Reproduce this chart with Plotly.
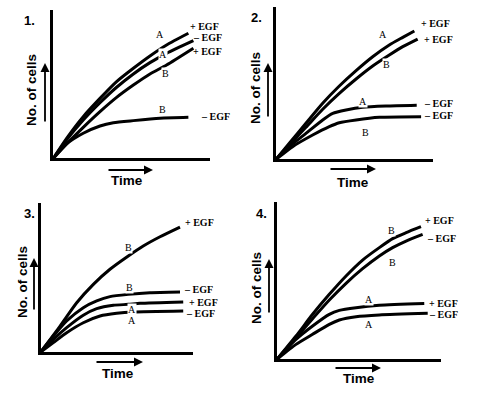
import plotly.graph_objects as go

# ---------------- data (time, no. of cells in arbitrary units 0-10) ----------------
# Panel 1
p1_Aplus_t = [0, 0.85, 1.91, 2.98, 4.04, 5.11, 6.17, 7.23, 8.62]
p1_Aplus_n = [0, 1.35, 2.81, 4.04, 5.17, 6.07, 6.90, 7.64, 8.43]
p1_Aminus_t = [0, 0.85, 1.91, 2.98, 4.04, 5.11, 6.17, 7.23, 8.94]
p1_Aminus_n = [0, 1.24, 2.58, 3.75, 4.79, 5.69, 6.45, 7.08, 7.93]
p1_Bplus_t = [0, 0.85, 1.91, 2.98, 4.04, 5.11, 6.17, 7.23, 8.94]
p1_Bplus_n = [0, 0.97, 2.09, 3.15, 4.11, 4.94, 5.69, 6.29, 7.42]
p1_Bminus_t = [0, 0.85, 1.91, 2.98, 3.83, 5.11, 6.81, 8.62]
p1_Bminus_n = [0, 0.97, 1.69, 2.18, 2.40, 2.54, 2.70, 2.76]

# Panel 2
p2_Aplus_t = [0, 0.85, 1.91, 2.98, 4.04, 5.11, 6.17, 7.23, 8.09, 8.83]
p2_Aplus_n = [0, 1.05, 2.36, 3.67, 4.80, 5.81, 6.72, 7.49, 7.99, 8.41]
p2_Bplus_t = [0, 0.85, 1.91, 2.98, 4.04, 5.11, 6.17, 7.23, 8.09, 9.04]
p2_Bplus_n = [0, 0.94, 2.10, 3.28, 4.32, 5.26, 6.11, 6.83, 7.38, 7.88]
p2_Aminus_t = [0, 0.85, 1.91, 2.98, 3.62, 4.47, 5.53, 7.02, 8.98]
p2_Aminus_n = [0, 0.83, 1.70, 2.58, 3.01, 3.23, 3.41, 3.49, 3.54]
p2_Bminus_t = [0, 1.06, 2.34, 3.40, 4.04, 5.11, 6.60, 9.26]
p2_Bminus_n = [0, 0.83, 1.59, 2.14, 2.40, 2.58, 2.75, 2.79]

# Panel 3
p3_Bplus_t = [0, 1.27, 2.36, 3.45, 4.54, 5.74, 6.72, 7.82, 9.13]
p3_Bplus_n = [0, 1.74, 3.30, 4.53, 5.54, 6.43, 7.10, 7.72, 8.37]
p3_Bminus_t = [0, 0.83, 1.70, 2.79, 3.67, 4.54, 5.74, 7.16, 9.13]
p3_Bminus_n = [0, 1.07, 2.08, 2.97, 3.42, 3.71, 3.86, 3.97, 4.02]
p3_Aplus_t = [0, 0.83, 1.70, 2.79, 3.67, 4.76, 5.74, 6.51, 9.34]
p3_Aplus_n = [0, 0.85, 1.63, 2.46, 2.90, 3.13, 3.19, 3.26, 3.35]
p3_Aminus_t = [0, 0.83, 1.70, 2.79, 3.89, 4.98, 6.07, 9.34]
p3_Aminus_n = [0, 0.63, 1.29, 1.96, 2.41, 2.59, 2.68, 2.75]

# Panel 4
p4_Bplus_t = [0, 1.16, 2.17, 3.19, 4.21, 5.22, 6.24, 7.05, 7.87, 8.78]
p4_Bplus_n = [0, 1.48, 2.86, 4.13, 5.30, 6.31, 7.10, 7.67, 8.05, 8.43]
p4_Bminus_t = [0, 1.16, 2.17, 3.19, 4.21, 5.22, 6.24, 7.05, 7.87, 8.88]
p4_Bminus_n = [0, 1.38, 2.58, 3.77, 4.83, 5.76, 6.57, 7.10, 7.52, 7.94]
p4_Aplus_t = [0, 1.16, 2.17, 3.19, 3.80, 4.82, 6.24, 8.98]
p4_Aplus_n = [0, 1.27, 2.12, 2.86, 3.11, 3.28, 3.43, 3.54]
p4_Aminus_t = [0, 1.16, 2.17, 3.19, 3.80, 4.82, 6.24, 9.19]
p4_Aminus_n = [0, 0.95, 1.59, 2.22, 2.50, 2.71, 2.82, 2.92]

panel_titles = ["1.", "2.", "3.", "4."]
y_title = "No. of cells"
x_title = "Time"

# ---------------- layout helpers ----------------
W, H = 492, 393


def P(x, y):
    return x / W, 1 - y / H


# panel plotting areas in screen pixels: (x0, x1, ytop, ybottom)
areas = [
    (53.3, 210.0, 10.0, 158.3),
    (276.0, 432.7, 6.7, 159.3),
    (40.7, 193.3, 202.7, 352.0),
    (277.0, 441.0, 202.0, 359.3),
]

curves = [
    [(p1_Aplus_t, p1_Aplus_n), (p1_Aminus_t, p1_Aminus_n), (p1_Bplus_t, p1_Bplus_n), (p1_Bminus_t, p1_Bminus_n)],
    [(p2_Aplus_t, p2_Aplus_n), (p2_Bplus_t, p2_Bplus_n), (p2_Aminus_t, p2_Aminus_n), (p2_Bminus_t, p2_Bminus_n)],
    [(p3_Bplus_t, p3_Bplus_n), (p3_Bminus_t, p3_Bminus_n), (p3_Aplus_t, p3_Aplus_n), (p3_Aminus_t, p3_Aminus_n)],
    [(p4_Bplus_t, p4_Bplus_n), (p4_Bminus_t, p4_Bminus_n), (p4_Aplus_t, p4_Aplus_n), (p4_Aminus_t, p4_Aminus_n)],
]

fig = go.Figure()
layout = dict(
    width=W, height=H, margin=dict(l=0, r=0, t=0, b=0),
    paper_bgcolor="white", plot_bgcolor="white", showlegend=False,
)

for i, (x0, x1, yt, yb) in enumerate(areas):
    k = "" if i == 0 else str(i + 1)
    ax_common = dict(showgrid=False, zeroline=False, showticklabels=False, ticks="",
                     showline=True, linecolor="black", linewidth=3, range=[0, 10], fixedrange=True)
    layout["xaxis" + k] = dict(domain=[x0 / W, x1 / W], anchor="y" + k, **ax_common)
    layout["yaxis" + k] = dict(domain=[1 - yb / H, 1 - yt / H], anchor="x" + k, **ax_common)
    for t, n in curves[i]:
        fig.add_trace(go.Scatter(x=t, y=n, mode="lines", line=dict(color="black", width=3, shape="spline", smoothing=0.6),
                                 xaxis="x" + k, yaxis="y" + k, hoverinfo="skip", cliponaxis=False))

fig.update_layout(**layout)

ann = []


def text(x, y, s, size=10, family="Liberation Serif", bg=None, angle=0):
    px, py = P(x, y)
    d = dict(x=px, y=py, xref="paper", yref="paper", text=s, showarrow=False,
             font=dict(family=family, size=size, color="black"), textangle=angle,
             xanchor="center", yanchor="middle", borderpad=0)
    if bg:
        d["bgcolor"] = bg
    ann.append(d)


def arrow(hx, hy, tx, ty):
    px, py = P(hx, hy)
    ann.append(dict(x=px, y=py, xref="paper", yref="paper", text="", showarrow=True,
                    ax=tx - hx, ay=ty - hy, arrowhead=2, arrowsize=1, arrowwidth=1.8, arrowcolor="black"))


# EGF labels and curve labels
egf = [
    [(204, 26, "<b>+ EGF</b>"), (207, 37, "<b>– EGF</b>"), (207, 51, "<b>+ EGF</b>"), (215, 117, "<b>– EGF</b>")],
    [(435, 24, "<b>+ EGF</b>"), (438, 39, "<b>+ EGF</b>"), (438, 104, "<b>– EGF</b>"), (438, 116, "<b>– EGF</b>")],
    [(199, 222, "<b>+ EGF</b>"), (198, 289, "<b>– EGF</b>"), (203, 302, "<b>+ EGF</b>"), (200, 313, "<b>– EGF</b>")],
    [(439, 220, "<b>+ EGF</b>"), (441, 238, "<b>– EGF</b>"), (443, 303, "<b>+ EGF</b>"), (443, 314, "<b>– EGF</b>")],
]
letters = [
    [(160, 35, "A"), (163, 54, "A"), (165, 73, "B"), (162, 110, "B")],
    [(383, 35, "A"), (386, 65, "B"), (363, 101, "A"), (365, 132, "B")],
    [(128, 247, "B"), (129, 287, "B"), (132, 309, "A"), (132, 320, "A")],
    [(391, 230, "B"), (392, 262, "B"), (369, 299, "A"), (369, 324, "A")],
]
num_pos = [(29, 21), (256, 17), (29, 213), (261, 213)]
ylab_pos = [(32, 90), (255, 88), (22, 282), (256, 288)]
xlab_pos = [(127, 180), (353, 182), (118, 373), (359, 378)]
yarrows = [(45, 63, 45, 123), (268, 63, 268, 118), (34, 258, 34, 311), (269, 259, 269, 314)]
xarrows = [(153, 170, 107, 170), (376, 169, 329, 169), (143, 362, 95, 362), (381, 368, 334, 368)]

for i in range(4):
    for x, y, s in egf[i]:
        text(x, y, s, size=10)
    for x, y, s in letters[i]:
        text(x, y, s, size=10, bg="white")
    text(*num_pos[i], "<b>" + panel_titles[i] + "</b>", size=13, family="Liberation Sans")
    text(*ylab_pos[i], "<b>" + y_title + "</b>", size=13.5, family="Liberation Sans", angle=-90)
    text(*xlab_pos[i], "<b>" + x_title + "</b>", size=13.5, family="Liberation Sans")
    arrow(*yarrows[i])
    arrow(*xarrows[i])

fig.update_layout(annotations=ann)
fig.write_html("out.html", config={"displayModeBar": False},
               post_script="document.body.style.margin='0';document.body.style.overflow='hidden';")
